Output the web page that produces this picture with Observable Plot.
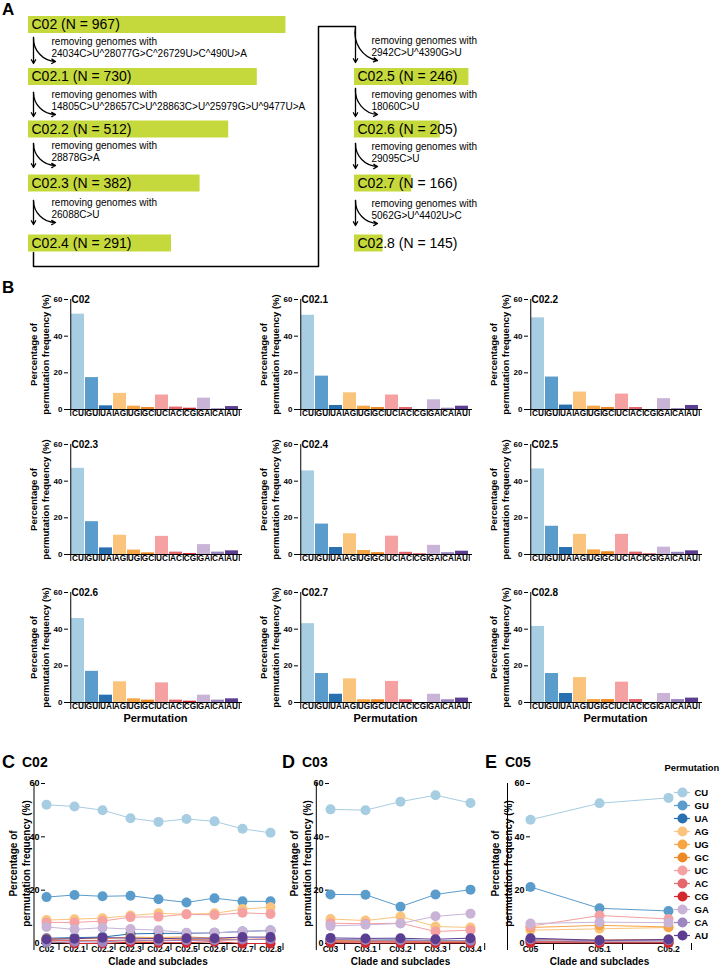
<!DOCTYPE html>
<html><head><meta charset="utf-8">
<script src="https://cdn.jsdelivr.net/npm/d3@7"></script>
<script src="https://cdn.jsdelivr.net/npm/@observablehq/plot@0.6"></script>
<style>
body{margin:0;background:#fff;}
#fig{position:relative;width:721px;height:967px;overflow:hidden;font-family:"Liberation Sans",Arial,Helvetica,sans-serif;}
.lbl{position:absolute;font-weight:bold;line-height:1;white-space:nowrap;color:#000;}
</style></head><body><div id="fig"></div>
<script>
// ---------------- DATA ----------------
const perms = ["CU","GU","UA","AG","UG","GC","UC","AC","CG","GA","CA","AU"];
const permColors = ["#a6cde2","#5a9ccb","#2870b0","#fbc47c","#f7a445","#ee8a26","#f5a0a1","#e3676b","#d2282d","#c9b4d7","#9c86bf","#5b3d91"];

const c02Clades = ["C02","C02.1","C02.2","C02.3","C02.4","C02.5","C02.6","C02.7","C02.8"];
const c02Counts = [967, 730, 512, 382, 291, 246, 205, 166, 145];
const c02Removed = [
  "24034C>U^28077G>C^26729U>C^490U>A",
  "14805C>U^28657C>U^28863C>U^25979G>U^9477U>A",
  "28878G>A",
  "26088C>U",
  "2942C>U^4390G>U",
  "18060C>U",
  "29095C>U",
  "5062G>U^4402U>C"
];
const removingText = "removing genomes with";

// permutation frequency (%) per clade, in the order of `perms`
const freqC02   = [52.0, 17.4, 2.0,  8.8, 1.8, 1.1,  7.9, 1.3, 0.7, 6.2, 0.4, 1.6];
const freqC02_1 = [51.4, 18.2, 2.2,  9.1, 1.8, 1.1,  7.9, 1.1, 0.0, 5.3, 0.7, 1.8];
const freqC02_2 = [50.0, 17.7, 2.4,  9.5, 1.8, 1.1,  8.4, 1.1, 0.0, 5.9, 0.5, 2.2];
const freqC02_3 = [47.0, 17.9, 3.6, 10.5, 2.4, 0.9,  9.9, 1.3, 0.5, 5.4, 1.3, 2.0];
const freqC02_4 = [45.6, 16.6, 3.8, 11.3, 2.2, 1.0, 10.0, 1.2, 0.3, 5.0, 1.0, 1.8];
const freqC02_5 = [46.7, 15.4, 3.8, 11.0, 2.5, 1.5, 11.0, 1.3, 0.3, 4.0, 1.2, 2.0];
const freqC02_6 = [45.8, 17.0, 4.0, 11.3, 2.0, 1.3, 10.7, 1.3, 0.7, 4.0, 1.3, 2.0];
const freqC02_7 = [43.0, 15.8, 4.5, 12.9, 1.5, 1.5, 11.5, 1.5, 0.0, 4.5, 1.5, 2.4];
const freqC02_8 = [41.5, 15.8, 4.9, 13.6, 1.6, 1.6, 11.1, 1.6, 0.0, 4.9, 1.6, 2.4];

const c03Clades = ["C03","C03.1","C03.2","C03.3","C03.4"];
const freqC03   = [50.3, 18.4, 1.5,  9.2, 1.2, 0.8, 7.6, 1.0, 0.3,  6.6, 1.5, 2.1];
const freqC03_1 = [50.0, 18.3, 1.2,  8.6, 1.0, 0.8, 7.4, 0.8, 0.2,  7.0, 1.3, 1.9];
const freqC03_2 = [53.2, 13.8, 1.4, 10.1, 1.0, 0.6, 7.6, 0.8, 0.2,  7.5, 1.2, 2.0];
const freqC03_3 = [55.6, 18.4, 1.0,  6.4, 0.8, 0.5, 4.5, 0.5, 0.2, 10.2, 1.0, 1.6];
const freqC03_4 = [52.7, 20.2, 1.0,  6.0, 0.8, 0.5, 5.0, 0.5, 0.2, 11.2, 1.0, 2.0];

const c05Clades = ["C05","C05.1","C05.2"];
const freqC05   = [46.4, 21.2, 1.0, 5.0, 6.0, 1.5,  6.5, 0.8, 0.3, 7.5, 1.5, 2.0];
const freqC05_1 = [52.6, 13.2, 0.5, 5.5, 6.8, 1.3, 10.5, 0.5, 0.2, 8.0, 1.0, 1.2];
const freqC05_2 = [54.6, 12.2, 0.5, 6.0, 6.2, 1.5,  9.2, 0.5, 0.2, 7.8, 1.2, 1.5];

const yTicks = [0, 20, 40, 60];
const yLabel = "Percentage of\npermutation frequency (%)";
const barXLabel = "Permutation";
const lineXLabel = "Clade and subclades";
const legendTitle = "Permutation";

const c02Freqs = [freqC02, freqC02_1, freqC02_2, freqC02_3, freqC02_4, freqC02_5, freqC02_6, freqC02_7, freqC02_8];
const c03Freqs = [freqC03, freqC03_1, freqC03_2, freqC03_3, freqC03_4];
const c05Freqs = [freqC05, freqC05_1, freqC05_2];

// ---------------- LAYOUT HELPERS ----------------
const FONT = '"Liberation Sans", Arial, Helvetica, sans-serif';
const GREEN = "#c6d93c";
const fig = document.getElementById("fig");
function place(el, left, top) {
  el.style.position = "absolute"; el.style.left = left + "px"; el.style.top = top + "px";
  el.style.maxWidth = "none";
  fig.appendChild(el);
}
function letter(text, left, top, size) {
  const d = document.createElement("div");
  d.className = "lbl"; d.textContent = text;
  d.style.left = left + "px"; d.style.top = top + "px"; d.style.fontSize = size + "px";
  fig.appendChild(d);
}
const baseStyle = {fontFamily: FONT, fontWeight: "bold", color: "#000", background: "transparent", overflow: "visible"};
const colorScale = {domain: perms, range: permColors};

// ---------------- PANEL A ----------------
const A_rowY = [24.5, 76.5, 129, 183, 243];
const A_colX = [28, 354];
const A_unit = 28.6;
const flow = c02Clades.map((c, i) => {
  const col = i < 5 ? 0 : 1, row = i < 5 ? i : i - 4;
  return {label: `${c} (N = ${c02Counts[i]})`, x0: A_colX[col], y: A_rowY[row], len: (c02Clades.length - i) * A_unit};
});
const gapLeft = [[37, 63], [92, 116], [143, 167], [200, 224]];
const gapRight = [[27, 62], [88, 116], [143, 168], [200, 225]];
const steps = c02Removed.map((m, k) => {
  const right = k >= 4;
  const g = right ? gapRight[k - 4] : gapLeft[k];
  return {mut: m, ax: right ? 355 : 33, tx: right ? 371 : 51, top: g[0], bottom: g[1]};
});
const connector = [[33, 252], [33, 266], [318, 266], [318, 26], [355, 26]];

const panelA = Plot.plot({
  width: 721, height: 275, margin: 0,
  x: {type: "identity", axis: null}, y: {type: "identity", axis: null},
  style: {fontFamily: FONT, color: "#000", background: "transparent", overflow: "visible"},
  marks: [
    Plot.rect(flow, {x1: "x0", x2: d => d.x0 + d.len, y1: d => d.y - 8.5, y2: d => d.y + 8.5, fill: GREEN}),
    Plot.text(flow, {x: d => d.x0 + 3, y: "y", text: "label", textAnchor: "start", fontSize: 14}),
    Plot.line(connector, {x: d => d[0], y: d => d[1], stroke: "#000", strokeWidth: 1.5}),
    Plot.arrow(steps, {x1: "ax", y1: "top", x2: "ax", y2: "bottom", headLength: 5, strokeWidth: 1.3, stroke: "#000"}),
    Plot.arrow(steps, {x1: "ax", y1: "top", x2: d => d.ax + 22, y2: d => d.bottom - 2, bend: -45, headLength: 5, strokeWidth: 1.3, stroke: "#000"}),
    Plot.text(steps, {x: "tx", y: d => d.bottom - 22, text: () => removingText, textAnchor: "start", fontSize: 10}),
    Plot.text(steps, {x: "tx", y: d => d.bottom - 10, text: "mut", textAnchor: "start", fontSize: 10})
  ]
});
place(panelA, 0, 0);
letter("A", 2, 1, 17);

// ---------------- PANEL B ----------------
function barChart(title, vals, isBottom) {
  const data = perms.map((p, i) => ({perm: p, value: vals[i]}));
  const mL = 68, mR = 8, W = 250;
  const step = (W - mL - mR) / perms.length;
  return Plot.plot({
    width: W, height: 151, marginLeft: mL, marginRight: mR, marginTop: 10, marginBottom: 31,
    style: {...baseStyle, fontSize: "8px"},
    x: {domain: perms, paddingInner: 0.06, paddingOuter: 0.03, label: null, axis: null},
    y: {domain: [0, 60], label: null, axis: null},
    color: colorScale,
    marks: [
      Plot.barY(data, {x: "perm", y: "value", fill: "perm"}),
      Plot.ruleY([0], {strokeWidth: 1}),
      Plot.ruleX([perms[0]], {x: d => d, dx: -step / 2, y1: 0, y2: 60, strokeWidth: 1}),
      Plot.ruleX(perms, {x: d => d, dx: step / 2, y1: 0, y2: 0, insetBottom: -7, strokeWidth: 1}),
      Plot.ruleX([perms[0]], {x: d => d, dx: -step / 2, y1: 0, y2: 0, insetBottom: -7, strokeWidth: 1}),
      Plot.axisY({ticks: yTicks, tickSize: 4, tickPadding: 2, fontSize: 8, label: null}),
      Plot.axisX({tickSize: 0, tickPadding: 1, fontSize: 8.2, label: null}),
      Plot.text([title], {frameAnchor: "top-left", dx: 3, textAnchor: "start", lineAnchor: "middle", fontSize: 10}),
      Plot.text([yLabel], {frameAnchor: "left", dx: -29, rotate: -90, textAnchor: "middle", lineAnchor: "middle", fontSize: 9.5, lineHeight: 1.25}),
      isBottom ? Plot.text([barXLabel], {frameAnchor: "bottom", dy: 16, lineAnchor: "middle", fontSize: 11}) : null
    ]
  });
}
const bCols = [0, 230, 460];
const bRows = [289, 434, 582];
c02Clades.forEach((c, i) => {
  const r = Math.floor(i / 3), col = i % 3;
  place(barChart(c, c02Freqs[i], r === 2), bCols[col], bRows[r]);
});
letter("B", 2, 279, 17);

// ---------------- PANELS C, D, E ----------------
function lineChart(clades, freqs, mL, plotW, labelDx) {
  const data = [];
  perms.forEach((p, j) => clades.forEach((c, i) => data.push({perm: p, clade: c, value: freqs[i][j]})));
  const step = plotW / clades.length;
  return Plot.plot({
    width: mL + plotW + 6, height: 196, marginLeft: mL, marginRight: 6, marginTop: 10, marginBottom: 26,
    style: {...baseStyle, fontSize: "9px"},
    x: {domain: clades, padding: 0, label: null, axis: null},
    y: {domain: [0, 60], label: null, axis: null},
    color: colorScale,
    marks: [
      Plot.ruleY([0], {strokeWidth: 1}),
      Plot.ruleX([clades[0]], {x: d => d, dx: -step / 2, y1: 0, y2: 60, strokeWidth: 1}),
      Plot.ruleX(clades, {x: d => d, dx: step / 2, y1: 0, y2: 0, insetBottom: -7, strokeWidth: 1}),
      Plot.ruleX([clades[0]], {x: d => d, dx: -step / 2, y1: 0, y2: 0, insetBottom: -7, strokeWidth: 1}),
      Plot.axisY({ticks: yTicks, tickSize: 4, tickPadding: 2, fontSize: 9, label: null}),
      Plot.axisX({tickSize: 0, tickPadding: 2, fontSize: 8.5, label: null}),
      Plot.line(data, {x: "clade", y: "value", z: "perm", stroke: "perm", strokeWidth: 1}),
      Plot.dot(data, {x: "clade", y: "value", fill: "perm", r: 5}),
      Plot.text([yLabel], {frameAnchor: "left", dx: labelDx, rotate: -90, textAnchor: "middle", lineAnchor: "middle", fontSize: 10, lineHeight: 1.3}),
      Plot.text([lineXLabel], {frameAnchor: "bottom", dy: 18, lineAnchor: "middle", fontSize: 10})
    ]
  });
}
place(lineChart(c02Clades, c02Freqs, 45, 225, -26), 0, 773);
place(lineChart(c03Clades, c03Freqs, 84, 142, -29), 245, 773);
place(lineChart(c05Clades, c05Freqs, 70, 138, -29), 460, 773);
letter("C", 2, 753, 18); letter(c02Clades[0], 22, 755, 14);
letter("D", 282, 753, 18); letter(c03Clades[0], 302, 755, 14);
letter("E", 485, 753, 18); letter(c05Clades[0], 505, 755, 14);

// ---------------- LEGEND ----------------
const legend = Plot.plot({
  width: 56, height: 190, margin: 0,
  x: {type: "identity", axis: null},
  y: {type: "point", domain: perms, range: [24, 183], axis: null},
  color: colorScale,
  style: {...baseStyle, fontSize: "9.5px"},
  marks: [
    Plot.text([legendTitle], {frameAnchor: "top-left", dy: 7, textAnchor: "start", lineAnchor: "middle", fontSize: 9.4}),
    Plot.ruleY(perms, {y: d => d, x1: 10, x2: 26, stroke: d => d, strokeWidth: 1.2}),
    Plot.dot(perms, {x: 18, y: d => d, r: 5, fill: d => d}),
    Plot.text(perms, {x: 30, y: d => d, text: d => d, textAnchor: "start", fontSize: 9.5})
  ]
});
place(legend, 664, 760);
</script></body></html>
